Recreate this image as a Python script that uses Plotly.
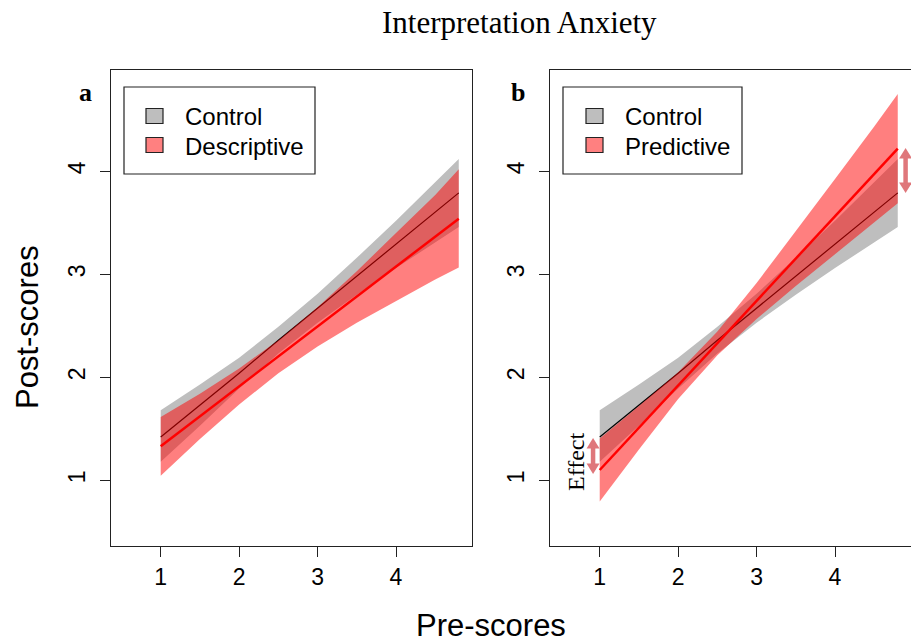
import plotly.graph_objects as go

# ---------------- data ----------------
x_grid = [1, 1.5, 2, 2.5, 3, 3.5, 4, 4.5, 4.8]

ctrl_fit   = [1.42, 1.73, 2.04, 2.36, 2.67, 2.98, 3.29, 3.60, 3.79]
ctrl_upper = [1.68, 1.93, 2.19, 2.49, 2.81, 3.16, 3.52, 3.89, 4.12]
ctrl_lower = [1.18, 1.53, 1.89, 2.23, 2.53, 2.80, 3.06, 3.31, 3.46]

desc_fit   = [1.33, 1.62, 1.91, 2.20, 2.49, 2.78, 3.07, 3.36, 3.54]
desc_upper = [1.615, 1.84, 2.085, 2.36, 2.68, 3.03, 3.40, 3.77, 4.02]
desc_lower = [1.045, 1.40, 1.735, 2.04, 2.30, 2.53, 2.74, 2.95, 3.065]

pred_fit   = [1.10, 1.51, 1.92, 2.33, 2.74, 3.15, 3.56, 3.97, 4.22]
pred_upper = [1.405, 1.72, 2.05, 2.445, 2.915, 3.415, 3.925, 4.435, 4.75]
pred_lower = [0.795, 1.30, 1.79, 2.215, 2.565, 2.885, 3.195, 3.505, 3.69]

tick_vals = [1, 2, 3, 4]
tick_text = ["1", "2", "3", "4"]

legend_a = ["Control", "Descriptive"]
legend_b = ["Control", "Predictive"]

# effect arrows (panel b): x position, top tip, bottom tip
effect_left = dict(x=0.915, y_top=1.41, y_bot=1.06)
effect_right = dict(x=4.90, y_top=4.225, y_bot=3.79)

# ---------------- styles ----------------
W, H = 911, 642
GREY = "#BEBEBE"
RED_FILL = "rgba(255,0,0,0.5)"
SANS = "Liberation Sans, Arial, sans-serif"
SERIF = "Liberation Serif, Times New Roman, serif"
ARROW_COL = "#DF777B"

def px_x(p):
    return p / W

def px_y(p):
    return 1 - p / H

fig = go.Figure()

def band(xs, up, lo, color, xa, ya):
    fig.add_trace(go.Scatter(
        x=list(xs) + list(xs)[::-1], y=list(up) + list(lo)[::-1],
        fill="toself", fillcolor=color, line=dict(width=0),
        mode="lines", hoverinfo="skip", showlegend=False, xaxis=xa, yaxis=ya))

def line(xs, ys, color, width, xa, ya):
    fig.add_trace(go.Scatter(x=xs, y=ys, mode="lines",
                             line=dict(color=color, width=width),
                             showlegend=False, xaxis=xa, yaxis=ya))

# panel a
band(x_grid, ctrl_upper, ctrl_lower, GREY, "x", "y")
line(x_grid, ctrl_fit, "black", 1.2, "x", "y")
band(x_grid, desc_upper, desc_lower, RED_FILL, "x", "y")
line(x_grid, desc_fit, "red", 2.5, "x", "y")

# panel b
band(x_grid, ctrl_upper, ctrl_lower, GREY, "x2", "y2")
line(x_grid, ctrl_fit, "black", 1.2, "x2", "y2")
band(x_grid, pred_upper, pred_lower, RED_FILL, "x2", "y2")
line(x_grid, pred_fit, "red", 2.5, "x2", "y2")

xr = [0.366, 4.969]
yr = [0.362, 4.988]
ydom = [px_y(546), px_y(69.5)]

axis_common = dict(showgrid=False, zeroline=False, showline=True, linecolor="#222",
                   linewidth=1, ticks="outside", ticklen=10, tickwidth=1, tickcolor="#222",
                   tickvals=tick_vals, ticktext=tick_text,
                   tickfont=dict(family=SANS, size=23, color="black"))

fig.update_layout(
    width=W, height=H,
    margin=dict(l=0, r=0, t=0, b=0),
    paper_bgcolor="white", plot_bgcolor="white",
    showlegend=False,
    xaxis=dict(domain=[px_x(111), px_x(472)], range=xr, mirror=True, anchor="y", **axis_common),
    yaxis=dict(domain=ydom, range=yr, mirror=True, anchor="x", tickangle=-90,
               ticklabelstandoff=6, **axis_common),
    xaxis2=dict(domain=[px_x(550), 1.0], range=xr, mirror=True, anchor="y2", **axis_common),
    yaxis2=dict(domain=ydom, range=yr, mirror=False, anchor="x2", tickangle=-90,
                ticklabelstandoff=6, **axis_common),
)

ann = []
shapes = []
# title & axis titles
ann.append(dict(text="Interpretation Anxiety", x=px_x(519), y=px_y(23), xref="paper", yref="paper",
                showarrow=False, font=dict(family=SERIF, size=31, color="black"),
                xanchor="center", yanchor="middle"))
ann.append(dict(text="Pre-scores", x=px_x(491), y=px_y(625), xref="paper", yref="paper",
                showarrow=False, font=dict(family=SANS, size=31, color="black"),
                xanchor="center", yanchor="middle"))
ann.append(dict(text="Post-scores", x=px_x(27), y=px_y(327), xref="paper", yref="paper",
                showarrow=False, textangle=-90, font=dict(family=SANS, size=31, color="black"),
                xanchor="center", yanchor="middle"))
# panel letters
for letter, xp in (("a", 85), ("b", 518)):
    ann.append(dict(text="<b>%s</b>" % letter, x=px_x(xp), y=px_y(92), xref="paper", yref="paper",
                    showarrow=False, font=dict(family=SERIF, size=26, color="black"),
                    xanchor="center", yanchor="middle"))

# legends drawn as boxes
def legend_box(x0, x1, labels, sw_x0, text_x):
    shapes.append(dict(type="rect", xref="paper", yref="paper",
                       x0=px_x(x0), x1=px_x(x1), y0=px_y(174), y1=px_y(87),
                       line=dict(color="#222", width=1.2), fillcolor="white"))
    for lab, yc, col in ((labels[0], 116, GREY), (labels[1], 145, "#FF8080")):
        shapes.append(dict(type="rect", xref="paper", yref="paper",
                           x0=px_x(sw_x0), x1=px_x(sw_x0 + 17), y0=px_y(yc + 7.5), y1=px_y(yc - 7.5),
                           line=dict(color="#222", width=1.2), fillcolor=col))
        ann.append(dict(text=lab, x=px_x(text_x), y=px_y(yc + 1), xref="paper", yref="paper",
                        showarrow=False, font=dict(family=SANS, size=24, color="black"),
                        xanchor="left", yanchor="middle"))

legend_box(124, 315, legend_a, 146, 183)
legend_box(563, 742, legend_b, 586, 623)

# effect arrows: double-headed, built as shapes on panel b's axes
X_UNIT_PX = 361 / (xr[1] - xr[0])
Y_UNIT_PX = (546 - 69.5) / (yr[1] - yr[0])
head_len = 10.5 / Y_UNIT_PX
head_hw = 6.5 / X_UNIT_PX
for e in (effect_left, effect_right):
    xc, yt, yb = e["x"], e["y_top"], e["y_bot"]
    shapes.append(dict(type="line", xref="x2", yref="y2", x0=xc, x1=xc,
                       y0=yt - head_len * 0.9, y1=yb + head_len * 0.9,
                       line=dict(color=ARROW_COL, width=4.5)))
    shapes.append(dict(type="path", xref="x2", yref="y2",
                       path="M %f,%f L %f,%f L %f,%f Z" % (xc - head_hw, yt - head_len, xc, yt,
                                                           xc + head_hw, yt - head_len),
                       fillcolor=ARROW_COL, line=dict(width=0)))
    shapes.append(dict(type="path", xref="x2", yref="y2",
                       path="M %f,%f L %f,%f L %f,%f Z" % (xc - head_hw, yb + head_len, xc, yb,
                                                           xc + head_hw, yb + head_len),
                       fillcolor=ARROW_COL, line=dict(width=0)))

ann.append(dict(text="Effect", x=px_x(576), y=px_y(462), xref="paper", yref="paper",
                showarrow=False, textangle=-90, font=dict(family=SERIF, size=24, color="black"),
                xanchor="center", yanchor="middle"))

fig.update_layout(annotations=ann, shapes=shapes)
fig.write_html("out.html", config={"displayModeBar": False},
               post_script="document.body.style.margin='0';document.body.style.overflow='hidden';")
